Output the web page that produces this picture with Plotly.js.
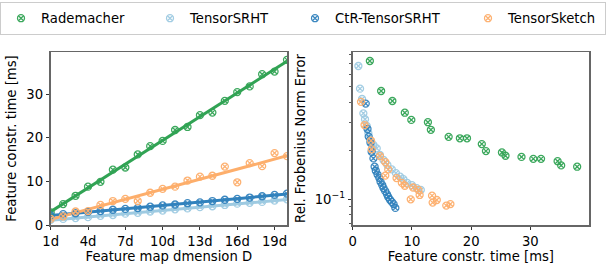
<!DOCTYPE html>
<html>
<head>
<meta charset="utf-8">
<script src="https://cdn.plot.ly/plotly-3.0.1.min.js"></script>
<style>html,body{margin:0;padding:0;background:#fff;}#chart{width:606px;height:266px;}</style>
</head>
<body>
<div id="chart"></div>
<script>
// ---- data ----
const dims = [1,2,3,4,5,6,7,8,9,10,11,12,13,14,15,16,17,18,19,20];
const dimTickVals = [1,4,7,10,13,16,19];
const dimTickText = ["1d","4d","7d","10d","13d","16d","19d"];

const names = ["Rademacher","TensorSRHT","CtR-TensorSRHT","TensorSketch"];

// feature construction time [ms] per dimension D (left panel)
const timeRademacher = [2.9,4.8,6.7,8.8,9.9,12.7,13.2,16.2,18.1,19.3,21.8,22.5,25.2,25.8,28.5,30.5,31.8,34.6,35.2,37.9];
const timeTensorSRHT = [1.2,1.4,1.6,1.8,2.1,2.3,2.6,2.8,3.1,3.3,3.6,3.8,4.1,4.3,4.6,4.9,5.1,5.3,5.6,5.9];
const timeCtR = [2.2,2.5,2.7,3.0,3.2,3.5,3.7,3.9,4.2,4.5,4.7,5.0,5.2,5.5,5.8,6.0,6.3,6.6,6.9,7.2];
const timeTensorSketch = [1.4,2.0,3.1,3.2,4.6,5.5,6.0,5.5,7.4,8.3,8.8,10.2,11.1,11.3,13.4,9.8,14.2,13.5,16.5,15.8];

// relative Frobenius norm error (right panel)
const errRademacher = [0.724,0.471,0.408,0.345,0.311,0.301,0.27,0.244,0.239,0.239,0.22,0.199,0.195,0.186,0.183,0.178,0.178,0.172,0.162,0.159];
const errTimeTensorSRHT = [0.96,1.24,1.58,1.8,2.08,2.37,2.65,2.93,3.5,4.06,4.6,5.2,5.86,6.6,7.3,8.0,8.56,9.2,10.0,10.8,11.5];
const errTensorSRHT = [0.674,0.487,0.42,0.342,0.314,0.285,0.257,0.233,0.217,0.207,0.188,0.175,0.163,0.153,0.145,0.138,0.133,0.126,0.122,0.117,0.114];
const errCtR = [0.393,0.273,0.245,0.224,0.197,0.179,0.159,0.150,0.142,0.135,0.128,0.122,0.117,0.112,0.107,0.103,0.099,0.096,0.093,0.088];
const errTensorSketch = [0.403,0.289,0.231,0.204,0.185,0.17,0.153,0.14,0.135,0.126,0.121,0.118,0.114,0.106,0.105,0.0996,0.0986,0.095,0.093,0.091];

const errTickVals = [0.1];
const errTickText = ["10<sup>\u22121</sup>"];
const errMinorVals = [0.07,0.08,0.09,0.2,0.3,0.4,0.5,0.6,0.7,0.8];
const timeTickVals = [0,10,20,30];

// ---- styling ----
const colors = ["#31a354","#9ecae1","#3182bd","#fdae6b"];
const legendWidths = [104,100,128,92];
const FONT = {family:"DejaVu Sans, sans-serif", size:13.2, color:"#000"};

function fit(x, y){
  const n = x.length;
  let sx=0, sy=0, sxx=0, sxy=0;
  for(let i=0;i<n;i++){ sx+=x[i]; sy+=y[i]; sxx+=x[i]*x[i]; sxy+=x[i]*y[i]; }
  const b = (n*sxy - sx*sy)/(n*sxx - sx*sx);
  const a = (sy - b*sx)/n;
  const xs = [x[0], x[n-1]];
  return {x: xs, y: xs.map(v => a + b*v)};
}

const leftTimes = [timeRademacher, timeTensorSRHT, timeCtR, timeTensorSketch];
const rightX = [timeRademacher, errTimeTensorSRHT, timeCtR, timeTensorSketch];
const rightY = [errRademacher, errTensorSRHT, errCtR, errTensorSketch];

function mk(i){
  return {symbol:"circle-x-open", size:7, color:colors[i], opacity:0.95, line:{width:1.3, color:colors[i]}};
}

const traces = [];
names.forEach((nm, i) => {
  const f = fit(dims, leftTimes[i]);
  traces.push({x:f.x, y:f.y, mode:"lines", line:{color:colors[i], width:3},
    xaxis:"x", yaxis:"y", showlegend:false, hoverinfo:"skip"});
});
names.forEach((nm, i) => {
  traces.push({x:dims, y:leftTimes[i], mode:"markers", name:nm, marker:mk(i),
    xaxis:"x", yaxis:"y", showlegend:true, legendwidth:legendWidths[i]});
});
names.forEach((nm, i) => {
  traces.push({x:rightX[i], y:rightY[i], mode:"markers", name:nm, marker:mk(i),
    xaxis:"x2", yaxis:"y2", showlegend:false});
});

const axBase = {showline:true, mirror:true, linecolor:"#666", linewidth:1.5,
  ticks:"outside", ticklen:3.5, tickwidth:1, tickcolor:"#333", showgrid:false,
  zeroline:false, automargin:false, tickfont:FONT};

const layout = {
  width:606, height:266,
  margin:{l:0, r:0, t:0, b:0},
  paper_bgcolor:"#fff", plot_bgcolor:"#fff",
  font:FONT,
  showlegend:true,
  legend:{orientation:"h", x:0.0033, xanchor:"left", y:0.992, yanchor:"top",
    bgcolor:"#fff", bordercolor:"#ccc", borderwidth:1, font:FONT,
    traceorder:"normal", itemclick:false},
  xaxis:Object.assign({}, axBase, {domain:[50.7/606, 287/606], range:[1,20],
    tickmode:"array", tickvals:dimTickVals, ticktext:dimTickText,
    title:{text:"Feature map dmension D", font:FONT, standoff:4}, anchor:"y"}),
  yaxis:Object.assign({}, axBase, {domain:[1-225/266, 1-52/266], range:[0,39.7],
    tickmode:"array", tickvals:[0,10,20,30],
    title:{text:"Feature constr. time [ms]", font:FONT, standoff:6}, anchor:"x"}),
  xaxis2:Object.assign({}, axBase, {domain:[352.7/606, 589/606], range:[0,39.9],
    tickmode:"array", tickvals:timeTickVals,
    title:{text:"Feature constr. time [ms]", font:FONT, standoff:4}, anchor:"y2"}),
  yaxis2:Object.assign({}, axBase, {domain:[1-225/266, 1-52/266], type:"log",
    range:[Math.log10(0.0689), Math.log10(0.824)],
    tickmode:"array", tickvals:errTickVals, ticktext:errTickText,
    minor:{tickmode:"array", tickvals:errMinorVals, ticklen:2, tickwidth:0.8, tickcolor:"#333", ticks:"outside", showgrid:false},
    title:{text:"Rel. Frobenius Norm Error", font:FONT, standoff:6}, anchor:"x2"})
};

Plotly.newPlot("chart", traces, layout, {staticPlot:true, displayModeBar:false});
</script>
</body>
</html>
